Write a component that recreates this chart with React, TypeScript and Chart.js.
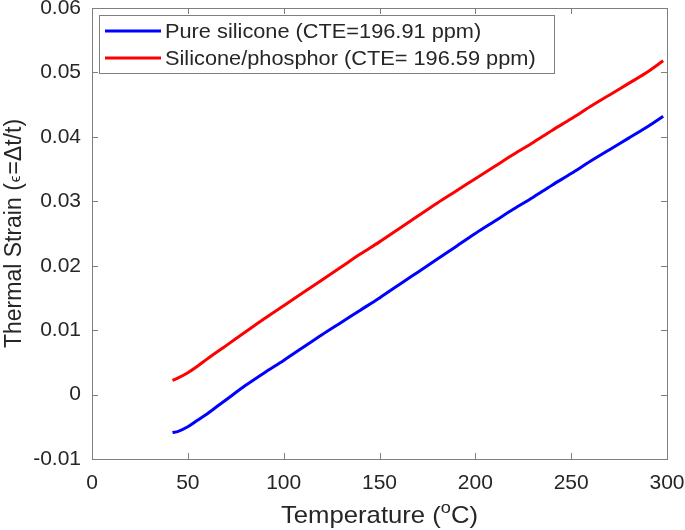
import { useEffect, useRef } from 'react';
import { Chart, registerables } from 'chart.js';

Chart.register(...registerables);

// ---- Data ----
const pureTemps = [42, 45, 50, 55, 60, 65, 70, 80, 90, 100, 110, 120, 130, 140, 150, 160, 170, 180, 190, 200, 210, 220, 230, 240, 250, 260, 270, 280, 290, 298];
const pureStrain = [-0.0059, -0.0057, -0.0050, -0.0040, -0.0030, -0.0019, -0.0008, 0.0014, 0.0034, 0.0053, 0.0073, 0.0093, 0.0112, 0.0131, 0.0150, 0.0170, 0.0190, 0.0210, 0.0230, 0.0250, 0.0269, 0.0288, 0.0306, 0.0325, 0.0343, 0.0362, 0.0380, 0.0398, 0.0416, 0.0432];

const phosTemps = [42, 45, 50, 55, 60, 70, 80, 90, 100, 110, 120, 130, 140, 150, 160, 170, 180, 190, 200, 210, 220, 230, 240, 250, 260, 270, 280, 290, 298];
const phosStrain = [0.0022, 0.0026, 0.0034, 0.0044, 0.0055, 0.0076, 0.0097, 0.0118, 0.0138, 0.0158, 0.0178, 0.0198, 0.0218, 0.0237, 0.0257, 0.0277, 0.0297, 0.0316, 0.0335, 0.0354, 0.0373, 0.0391, 0.0410, 0.0428, 0.0447, 0.0465, 0.0483, 0.0501, 0.0518];

const seriesLabels = ['Pure silicone (CTE=196.91 ppm)', 'Silicone/phosphor (CTE= 196.59 ppm)'];
const xTickValues = [0, 50, 100, 150, 200, 250, 300];
const yTickValues = [-0.01, 0, 0.01, 0.02, 0.03, 0.04, 0.05, 0.06];
const yTickLabels = ['-0.01', '0', '0.01', '0.02', '0.03', '0.04', '0.05', '0.06'];

const FONT = '"Liberation Sans", Arial, sans-serif';
const AXIS_COLOR = '#7f7f7f';
const TEXT_COLOR = '#262626';

const decorPlugin = {
  id: 'decor',
  afterDraw(chart: any) {
    const { ctx, chartArea } = chart;
    const { left, right, top, bottom } = chartArea;
    const xs = chart.scales.x;
    const ys = chart.scales.y;
    ctx.save();
    // frame
    ctx.strokeStyle = AXIS_COLOR;
    ctx.lineWidth = 1;
    ctx.strokeRect(Math.round(left) + 0.5, Math.round(top) + 0.5, Math.round(right - left), Math.round(bottom - top));
    // inward ticks
    const tl = 6;
    ctx.beginPath();
    xTickValues.forEach((v) => {
      const px = Math.round(xs.getPixelForValue(v)) + 0.5;
      ctx.moveTo(px, bottom);
      ctx.lineTo(px, bottom - tl);
      ctx.moveTo(px, top);
      ctx.lineTo(px, top + tl);
    });
    yTickValues.forEach((v) => {
      const py = Math.round(ys.getPixelForValue(v)) + 0.5;
      ctx.moveTo(left, py);
      ctx.lineTo(left + tl, py);
      ctx.moveTo(right, py);
      ctx.lineTo(right - tl, py);
    });
    ctx.stroke();

    // legend
    const lx = left + 7;
    const ly = top + 7;
    const sx = 1.036;
    ctx.font = `21px ${FONT}`;
    const textX = lx + 66;
    const maxW = Math.max(...seriesLabels.map((s) => ctx.measureText(s).width)) * sx;
    const bw = textX - lx + maxW + 18;
    const bh = 58;
    ctx.fillStyle = '#ffffff';
    ctx.fillRect(lx, ly, bw, bh);
    ctx.strokeStyle = AXIS_COLOR;
    ctx.strokeRect(Math.round(lx) + 0.5, Math.round(ly) + 0.5, Math.round(bw), bh);
    const colors = ['#0000ff', '#ff0000'];
    seriesLabels.forEach((s, i) => {
      const cy = ly + 16 + i * 27;
      ctx.strokeStyle = colors[i];
      ctx.lineWidth = 3;
      ctx.beginPath();
      ctx.moveTo(lx + 6, cy);
      ctx.lineTo(lx + 62, cy);
      ctx.stroke();
      ctx.fillStyle = TEXT_COLOR;
      ctx.textBaseline = 'middle';
      ctx.textAlign = 'left';
      ctx.save();
      ctx.translate(textX, cy + 1);
      ctx.scale(sx, 1);
      ctx.fillText(s, 0, 0);
      ctx.restore();
    });

    // x title: Temperature (°C) with superscript o
    ctx.fillStyle = TEXT_COLOR;
    ctx.textBaseline = 'alphabetic';
    ctx.textAlign = 'left';
    const big = `24px ${FONT}`;
    const small = `17px ${FONT}`;
    const p1 = 'Temperature (';
    const p2 = 'o';
    const p3 = 'C)';
    const xsx = 1.07;
    ctx.font = big;
    const w1 = ctx.measureText(p1).width;
    const w3 = ctx.measureText(p3).width;
    ctx.font = small;
    const w2 = ctx.measureText(p2).width;
    const total = (w1 + w2 + w3) * xsx;
    const x0 = (left + right) / 2 - total / 2;
    const base = 523;
    ctx.save();
    ctx.translate(x0, base);
    ctx.scale(xsx, 1);
    ctx.font = big;
    ctx.fillText(p1, 0, 0);
    ctx.font = small;
    ctx.fillText(p2, w1, -10);
    ctx.font = big;
    ctx.fillText(p3, w1 + w2, 0);
    ctx.restore();

    // y title
    ctx.save();
    ctx.translate(21, (top + bottom) / 2);
    ctx.rotate(-Math.PI / 2);
    const q1 = 'Thermal Strain (';
    const q2 = 'ϵ';
    const q3 = '=Δt/t)';
    const yBig = `23px ${FONT}`;
    const ySmall = `15px ${FONT}`;
    ctx.font = yBig;
    const v1 = ctx.measureText(q1).width;
    const v3 = ctx.measureText(q3).width;
    ctx.font = ySmall;
    const v2 = ctx.measureText(q2).width + 2;
    const vt = v1 + v2 + v3;
    const s0 = -vt / 2;
    ctx.font = yBig;
    ctx.fillText(q1, s0, 0);
    ctx.font = ySmall;
    ctx.fillText(q2, s0 + v1 + 1, -1);
    ctx.font = yBig;
    ctx.fillText(q3, s0 + v1 + v2, 0);
    ctx.restore();

    ctx.restore();
  },
};

export default function App() {
  const ref = useRef<HTMLCanvasElement | null>(null);
  useEffect(() => {
    document.body.style.margin = '0';
    const canvas = ref.current;
    if (!canvas) return;
    const chart = new Chart(canvas, {
      type: 'line',
      data: {
        datasets: [
          {
            label: seriesLabels[0],
            data: pureTemps.map((t, i) => ({ x: t, y: pureStrain[i] })),
            borderColor: '#0000ff',
            borderWidth: 3,
            pointRadius: 0,
            cubicInterpolationMode: 'monotone',
            fill: false,
          },
          {
            label: seriesLabels[1],
            data: phosTemps.map((t, i) => ({ x: t, y: phosStrain[i] })),
            borderColor: '#ff0000',
            borderWidth: 3,
            pointRadius: 0,
            cubicInterpolationMode: 'monotone',
            fill: false,
          },
        ],
      },
      options: {
        responsive: false,
        animation: false,
        layout: { padding: { left: 0, right: 18, top: 8, bottom: 0 } },
        plugins: { legend: { display: false }, tooltip: { enabled: false } },
        scales: {
          x: {
            type: 'linear',
            min: 0,
            max: 300,
            grid: { display: false, drawTicks: false },
            border: { display: false },
            ticks: {
              stepSize: 50,
              padding: 12,
              color: TEXT_COLOR,
              font: { family: FONT, size: 21 },
              maxRotation: 0,
            },
            afterFit: (s: any) => {
              s.height = 71;
              s.paddingLeft = 0;
              s.paddingRight = 0;
            },
          },
          y: {
            type: 'linear',
            min: -0.01,
            max: 0.06,
            grid: { display: false, drawTicks: false },
            border: { display: false },
            ticks: {
              stepSize: 0.01,
              padding: 11,
              color: TEXT_COLOR,
              font: { family: FONT, size: 21 },
              callback: (v: any) => {
                const idx = yTickValues.findIndex((t) => Math.abs(t - Number(v)) < 1e-9);
                return idx >= 0 ? yTickLabels[idx] : '';
              },
            },
            afterFit: (s: any) => {
              s.width = 92;
              s.paddingTop = 0;
              s.paddingBottom = 0;
            },
          },
        },
      },
      plugins: [decorPlugin],
    } as any);
    return () => chart.destroy();
  }, []);
  return (
    <div style={{ width: 685, height: 530 }}>
      <canvas ref={ref} width={685} height={530} style={{ display: 'block' }} />
    </div>
  );
}
